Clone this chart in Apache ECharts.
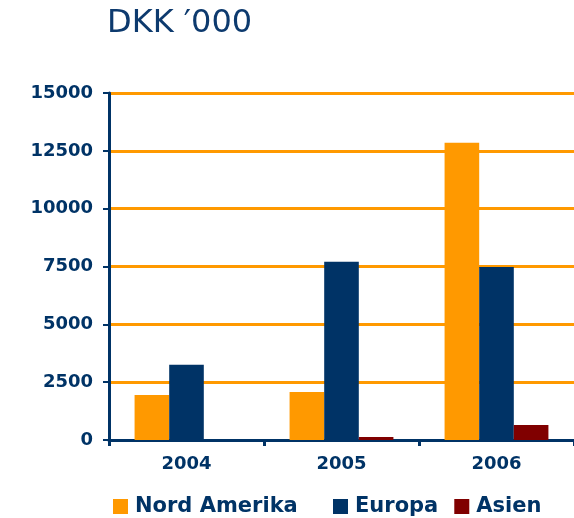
<!DOCTYPE html>
<html>
<head>
<meta charset="utf-8">
<script src="https://cdn.jsdelivr.net/npm/echarts@6/dist/echarts.min.js"></script>
<style>
  html, body { margin: 0; padding: 0; background: #fff; }
  #chart { width: 574px; height: 518px; }
</style>
</head>
<body>
<div id="chart"></div>
<script>
const years = ['2004', '2005', '2006']
const nordAmerika = [1950, 2080, 12850]
const europa = [3250, 7700, 7480]
const asien = [0, 130, 650]

const navy = '#003366'
const orange = '#FF9900'
const font = 'DejaVu Sans'

const legendBase = {
  top: 491,
  itemWidth: 15,
  itemHeight: 15,
  icon: 'rect',
  selectedMode: false,
  textStyle: { color: navy, fontFamily: font, fontWeight: 'bold', fontSize: 21, padding: [0, 0, 0, 2] }
}

const chart = echarts.init(document.getElementById('chart'))
chart.setOption({
  animation: false,
  color: [orange, navy, '#800000'],
  title: {
    text: 'DKK \u2032000',
    left: 102,
    top: 3,
    textStyle: { color: '#0d3a6e', fontFamily: font, fontWeight: 'normal', fontSize: 32 }
  },
  legend: [
    Object.assign({}, legendBase, { left: 108, data: ['Nord Amerika'] }),
    Object.assign({}, legendBase, { left: 328, itemGap: 16, data: ['Europa', 'Asien'] })
  ],
  grid: {
    left: 109,
    right: -2,
    top: 93,
    bottom: 78
  },
  xAxis: {
    type: 'category',
    data: years,
    axisLine: { lineStyle: { color: navy, width: 3 } },
    axisTick: { show: true, length: 6, lineStyle: { color: navy, width: 3 } },
    axisLabel: { color: navy, fontFamily: font, fontWeight: 'bold', fontSize: 18, margin: 15 }
  },
  yAxis: {
    type: 'value',
    min: 0,
    max: 15000,
    interval: 2500,
    axisLine: { show: true, lineStyle: { color: navy, width: 3 } },
    axisTick: { show: true, length: 6, lineStyle: { color: navy, width: 2 } },
    axisLabel: {
      color: navy, fontFamily: font, fontWeight: 'bold', fontSize: 18, margin: 16,
      formatter: (v) => String(v)
    },
    splitLine: { lineStyle: { color: orange, width: 3 } }
  },
  series: [
    { name: 'Nord Amerika', type: 'bar', data: nordAmerika, barGap: '0%', barCategoryGap: '33%' },
    { name: 'Europa', type: 'bar', data: europa },
    { name: 'Asien', type: 'bar', data: asien }
  ]
})
</script>
</body>
</html>
